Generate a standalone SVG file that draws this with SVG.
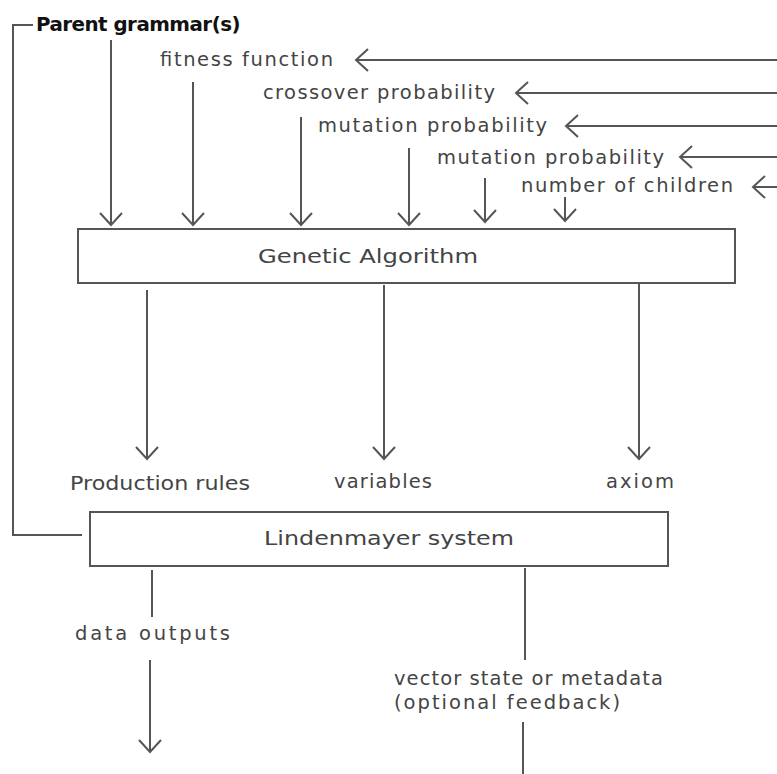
<svg xmlns="http://www.w3.org/2000/svg" width="777" height="774" viewBox="0 0 777 774">
  <style>
    .lbl { font-family: "DejaVu Sans", "Liberation Sans", sans-serif; font-size: 19.5px; fill: #444; }
    .title { font-family: "DejaVu Sans", "Liberation Sans", sans-serif; font-size: 19px; font-weight: bold; fill: #111; letter-spacing: -0.5px; }
    .box { fill: #fff; stroke: #555; stroke-width: 2; }
    .wire { fill: none; stroke: #555; stroke-width: 2; }
    .arrow { fill: none; stroke: #555; stroke-width: 2; marker-end: url(#open); }
  </style>
  <defs>
    <marker id="open" viewBox="-14 -13 16 26" refX="0" refY="0" markerWidth="16" markerHeight="26" markerUnits="userSpaceOnUse" orient="auto">
      <path d="M-12,-11 L0,0 L-12,11" fill="none" stroke="#555" stroke-width="2"/>
    </marker>
  </defs>

  <rect width="777" height="774" fill="#fff"/>

  <g id="connectors">
    <!-- parent grammar bracket down to the L-system -->
    <path class="wire" d="M33,25 H13 V535 H82" stroke-width="2.5"/>
    <!-- parameter inputs from the right edge -->
    <line class="arrow" x1="777" y1="60" x2="356" y2="60"/>
    <line class="arrow" x1="777" y1="93" x2="516" y2="93"/>
    <line class="arrow" x1="777" y1="126" x2="566" y2="126"/>
    <line class="arrow" x1="777" y1="157" x2="680" y2="157"/>
    <line class="arrow" x1="777" y1="187" x2="753" y2="187"/>
    <!-- inputs into the genetic algorithm -->
    <line class="arrow" x1="111" y1="40" x2="111" y2="225"/>
    <line class="arrow" x1="193" y1="82" x2="193" y2="225"/>
    <line class="arrow" x1="301" y1="117" x2="301" y2="225"/>
    <line class="arrow" x1="409" y1="148" x2="409" y2="225"/>
    <line class="arrow" x1="485" y1="178" x2="485" y2="222"/>
    <line class="arrow" x1="565" y1="197" x2="565" y2="221"/>
    <!-- GA outputs -->
    <line class="arrow" x1="147" y1="290" x2="147" y2="459"/>
    <line class="arrow" x1="384" y1="285" x2="384" y2="459"/>
    <line class="arrow" x1="639" y1="283" x2="639" y2="459"/>
    <!-- L-system outputs -->
    <line class="wire" x1="152" y1="570" x2="152" y2="617"/>
    <line class="arrow" x1="150" y1="660" x2="150" y2="752"/>
    <line class="wire" x1="525" y1="568" x2="525" y2="660"/>
    <line class="wire" x1="523" y1="722" x2="523" y2="774"/>
  </g>

  <g id="parent-grammar">
    <text class="title" x="36" y="31" textLength="204" lengthAdjust="spacingAndGlyphs">Parent grammar(s)</text>
  </g>

  <g id="parameters">
    <text class="lbl" x="160" y="66" textLength="173">fitness function</text>
    <text class="lbl" x="263" y="99" textLength="232">crossover probability</text>
    <text class="lbl" x="318" y="132" textLength="229">mutation probability</text>
    <text class="lbl" x="437" y="164" textLength="227">mutation probability</text>
    <text class="lbl" x="521" y="192" textLength="212">number of children</text>
  </g>

  <g id="genetic-algorithm">
    <rect class="box" x="78" y="229" width="657" height="54"/>
    <text class="lbl" x="258" y="263" textLength="220" lengthAdjust="spacingAndGlyphs">Genetic Algorithm</text>
  </g>

  <g id="production-rules">
    <text class="lbl" x="70" y="490" textLength="180" lengthAdjust="spacingAndGlyphs">Production rules</text>
  </g>
  <g id="variables">
    <text class="lbl" x="334" y="488" textLength="98">variables</text>
  </g>
  <g id="axiom">
    <text class="lbl" x="606" y="488" textLength="68">axiom</text>
  </g>

  <g id="lindenmayer-system">
    <rect class="box" x="90" y="512" width="578" height="54"/>
    <text class="lbl" x="264" y="545" textLength="250" lengthAdjust="spacingAndGlyphs">Lindenmayer system</text>
  </g>

  <g id="data-outputs">
    <text class="lbl" x="75" y="640" textLength="155">data outputs</text>
  </g>

  <g id="feedback">
    <text class="lbl" x="394" y="685" textLength="269">vector state or metadata</text>
    <text class="lbl" x="394" y="709" textLength="226">(optional feedback)</text>
  </g>
</svg>
